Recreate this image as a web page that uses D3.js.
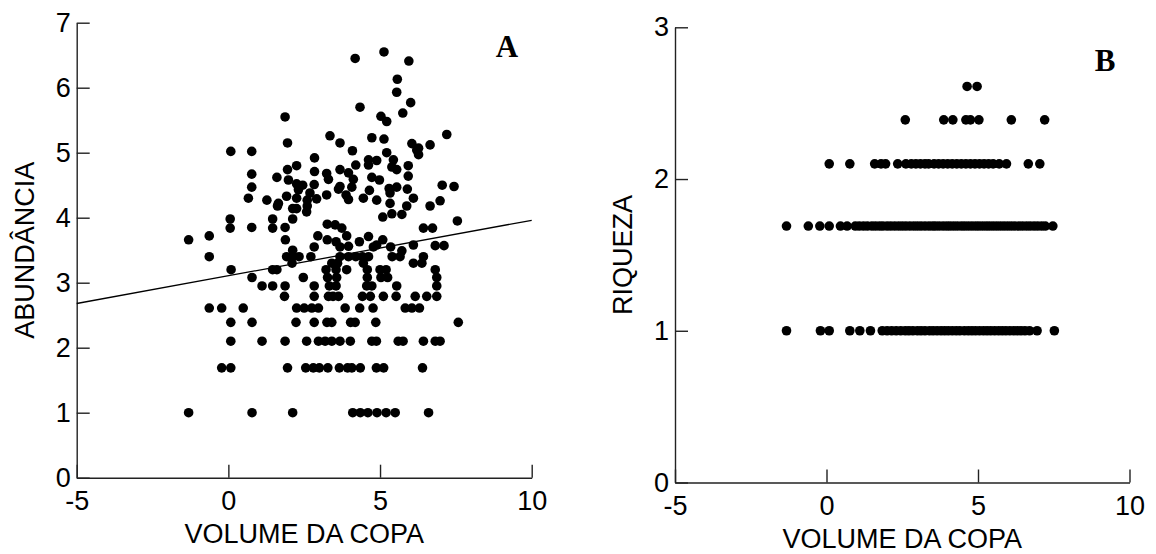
<!DOCTYPE html>
<html>
<head>
<meta charset="utf-8">
<script src="https://cdnjs.cloudflare.com/ajax/libs/d3/7.8.5/d3.min.js"></script>
<style>
  html, body { margin: 0; padding: 0; background: #fff; }
  svg { display: block; }
</style>
</head>
<body>
<svg id="chart" width="1156" height="554"></svg>
<script>
// ---------------- DATA ----------------
const xTickValues = [-5, 0, 5, 10];
const yTicksA = [0, 1, 2, 3, 4, 5, 6, 7];
const yTicksB = [0, 1, 2, 3];
const xTitle = "VOLUME DA COPA";
const yTitleA = "ABUNDÂNCIA";
const yTitleB = "RIQUEZA";

// Panel A: abundance rows (discrete levels) - volume values per level
const abundLevels = [1.00, 1.69, 2.10, 2.39, 2.61, 2.79, 2.95, 3.08, 3.20, 3.30, 3.40];
const abundLevelVolumes = [
  [-1.31, 0.78, 2.12, 4.10, 4.35, 4.60, 4.90, 5.20, 5.50, 6.60],
  [-0.22, 0.08, 1.95, 2.55, 2.80, 3.00, 3.28, 3.66, 3.93, 4.07, 4.35, 4.88, 5.12, 6.40],
  [0.08, 1.11, 1.87, 2.58, 2.97, 3.19, 3.41, 3.68, 4.02, 4.73, 4.88, 5.60, 5.76, 6.43, 6.82, 6.98],
  [0.08, 0.78, 2.23, 2.83, 3.25, 3.41, 4.03, 4.18, 4.86, 7.58],
  [-0.63, -0.22, 0.49, 2.25, 2.50, 2.75, 2.97, 3.85, 4.33, 4.77, 5.83, 6.05, 6.30],
  [1.85, 2.83, 3.30, 3.45, 3.63, 4.42, 4.68, 5.11, 5.53, 6.16, 6.54, 6.87],
  [1.11, 1.46, 1.87, 2.83, 3.33, 3.55, 4.56, 4.73, 5.55, 6.87],
  [0.78, 2.47, 3.27, 3.57, 4.58, 5.03, 5.25, 6.87],
  [0.09, 1.46, 1.60, 3.22, 3.55, 3.90, 4.58, 5.00, 5.20, 6.82],
  [2.10, 3.41, 3.60, 4.45, 6.10, 6.38],
  [-0.63, 1.92, 2.12, 2.33, 2.72, 3.68, 3.96, 4.20, 4.42, 4.62, 5.40, 5.66, 6.43]
];
// Panel A: upper scattered points
const upperVolume = [
  -1.31, -0.63, 2.12, 2.83, 1.88, 2.95, 3.26, 3.55, 3.68, 3.90, 3.96, 4.32, 4.62, 4.78, 4.89, 5.09, 5.35, 5.72, 6.10, 6.82, 7.11,
  0.06, 0.06, 0.77, 1.46, 1.46, 2.12, 1.87, 3.26, 3.52, 3.74, 6.43, 6.73, 7.55,
  5.09, 5.39, 5.72, 2.58, 2.12, 2.25, 2.60, 1.62, 5.88, 6.65,
  0.66, 1.27, 1.65, 1.92, 2.25, 2.60, 2.91, 3.24, 3.63, 3.88, 3.96, 4.45, 4.89, 5.33, 6.10, 6.98,
  2.31, 2.69, 4.65, 5.33,
  0.77, 2.25, 2.45, 2.83, 3.68, 4.07, 5.30, 5.55, 5.90, 7.05, 7.44,
  1.60, 1.98, 3.30, 4.12, 4.73, 4.98, 5.93,
  2.84, 3.24, 3.96, 0.77,
  2.25, 1.95, 3.68, 4.20, 4.62, 5.39, 5.55, 5.93,
  2.84, 4.62, 4.89, 5.44, 6.27,
  0.08, 0.77, 4.09, 5.22, 6.21, 6.27,
  1.95, 3.68, 6.05, 6.65, 3.35, 4.73, 5.13, 7.20,
  1.87, 5.03, 5.22, 5.75, 4.34, 6.01, 5.55, 5.57, 5.95, 4.18, 5.13
];
const upperAbund = [
  3.66, 3.72, 3.50, 3.55, 3.66, 3.72, 3.66, 3.63, 3.55, 3.72, 3.56, 3.63, 3.71, 3.55, 3.58, 3.66, 3.55, 3.49, 3.58, 3.57, 3.57,
  3.98, 3.84, 3.85, 3.98, 3.84, 3.98, 3.85, 3.90, 3.89, 3.84, 3.84, 3.84, 3.95,
  4.01, 4.06, 4.05, 4.09, 4.14, 4.14, 4.18, 4.18, 4.18, 4.18,
  4.30, 4.27, 4.22, 4.33, 4.30, 4.27, 4.29, 4.35, 4.44, 4.35, 4.28, 4.30, 4.27, 4.22, 4.30, 4.26,
  4.43, 4.38, 4.42, 4.38,
  4.47, 4.52, 4.50, 4.51, 4.48, 4.47, 4.45, 4.47, 4.44, 4.50, 4.48,
  4.62, 4.58, 4.59, 4.59, 4.62, 4.58, 4.64,
  4.71, 4.68, 4.69, 4.67,
  4.80, 4.74, 4.74, 4.81, 4.81, 4.78, 4.74, 4.80,
  4.92, 4.89, 4.88, 4.89, 4.97,
  5.02, 5.02, 5.03, 5.00, 5.04, 5.07,
  5.15, 5.15, 5.14, 5.12, 5.26, 5.23, 5.21, 5.28,
  5.55, 5.56, 5.48, 5.61, 5.70, 5.77, 5.93, 6.13, 6.41, 6.45, 6.55
];
// Panel A regression line end points (at x = -5 and x = 10)
const fitVolume = [-5, 10];
const fitAbund = [2.68, 3.96];

// Panel B: richness levels and volumes per level
const richLevels = [1.00, 1.69, 2.10, 2.39, 2.61];
const richLevelVolumes = [
  [-1.32, -0.20, 0.09, 0.77, 1.10, 1.45, 1.84, 2.00, 2.15, 2.30, 2.45, 2.60, 2.72, 2.85, 3.00, 3.12, 3.25, 3.40, 3.52, 3.65,
   3.78, 3.90, 4.02, 4.15, 4.28, 4.40, 4.55, 4.68, 4.80, 4.92, 5.05, 5.18, 5.30, 5.42, 5.55, 5.68, 5.80, 5.92, 6.05, 6.18,
   6.30, 6.42, 6.55, 6.70, 6.95, 7.52],
  [-1.32, -0.60, -0.22, 0.09, 0.46, 0.68, 0.95, 1.08, 1.22, 1.35, 1.50, 1.62, 1.75, 1.86, 2.00, 2.12, 2.25, 2.38, 2.50, 2.62,
   2.75, 2.88, 3.00, 3.12, 3.25, 3.38, 3.50, 3.60, 3.72, 3.85, 3.97, 4.08, 4.20, 4.32, 4.45, 4.56, 4.68, 4.80, 4.92, 5.03,
   5.15, 5.27, 5.38, 5.50, 5.62, 5.74, 5.86, 5.98, 6.10, 6.22, 6.35, 6.47, 6.60, 6.72, 6.85, 6.97, 7.10, 7.22, 7.47],
  [0.09, 0.77, 1.59, 1.80, 1.95, 2.35, 2.62, 2.80, 2.95, 3.10, 3.25, 3.37, 3.55, 3.70, 3.85, 4.00, 4.15, 4.30, 4.45, 4.60,
   4.75, 4.90, 5.05, 5.20, 5.35, 5.50, 5.70, 5.94, 6.66, 7.04],
  [2.60, 3.87, 4.17, 4.60, 4.75, 5.03, 6.10, 7.20],
  [4.64, 4.97]
];

// ---------------- DRAW ----------------
const svg = d3.select("#chart");
const FONT = "'Liberation Sans', Arial, sans-serif";
const FS = 27;
const R = 4.8;

function panel(opts) {
  const { x, y, yTicks, yTitle, letter, letterPos, points, fit } = opts;
  const g = svg.append("g");

  const xAxis = d3.axisBottom(x).tickValues(xTickValues).tickFormat(d => String(d))
    .tickSizeInner(-13).tickSizeOuter(0).tickPadding(13);
  const yAxis = d3.axisLeft(y).tickValues(yTicks).tickFormat(d => String(d))
    .tickSizeInner(-13).tickSizeOuter(0).tickPadding(6);

  const gx = g.append("g").attr("transform", `translate(0,${y(0)})`).call(xAxis);
  const gy = g.append("g").attr("transform", `translate(${x(-5)},0)`).call(yAxis);
  [gx, gy].forEach(a => {
    a.attr("font-family", FONT).attr("font-size", FS);
    a.selectAll("path, line").attr("stroke", "#222").attr("stroke-width", 1.4);
    a.selectAll("text").attr("fill", "#000");
  });

  if (fit) {
    g.append("line")
      .attr("x1", x(fit.xs[0])).attr("y1", y(fit.ys[0]))
      .attr("x2", x(fit.xs[1])).attr("y2", y(fit.ys[1]))
      .attr("stroke", "#000").attr("stroke-width", 1.3);
  }

  g.append("g").selectAll("circle").data(points).join("circle")
    .attr("cx", d => x(d[0])).attr("cy", d => y(d[1])).attr("r", R).attr("fill", "#000");

  const [x0, x1] = x.range();
  const [y0, y1] = y.range();
  g.append("text").attr("x", (x0 + x1) / 2).attr("y", y(0) + 65)
    .attr("text-anchor", "middle").attr("font-family", FONT).attr("font-size", FS)
    .text(xTitle);
  const cy = (y0 + y1) / 2;
  const tx = x0 - 43;
  g.append("text").attr("transform", `translate(${tx},${cy}) rotate(-90)`)
    .attr("text-anchor", "middle").attr("font-family", FONT).attr("font-size", FS)
    .text(yTitle);
  g.append("text").attr("x", letterPos[0]).attr("y", letterPos[1])
    .attr("text-anchor", "middle").attr("font-family", "'Liberation Serif', 'Times New Roman', serif")
    .attr("font-weight", "bold").attr("font-size", 31).text(letter);
}

// Panel A
const xA = d3.scaleLinear().domain([-5, 10]).range([76.7, 531.7]);
const yA = d3.scaleLinear().domain([0, 7]).range([477.7, 22.7]);
const pointsA = [];
abundLevels.forEach((lv, i) => abundLevelVolumes[i].forEach(v => pointsA.push([v, lv])));
upperVolume.forEach((v, i) => pointsA.push([v, upperAbund[i]]));
panel({ x: xA, y: yA, yTicks: yTicksA, yTitle: yTitleA, letter: "A", letterPos: [507, 57],
        points: pointsA, fit: { xs: fitVolume, ys: fitAbund } });

// Panel B
const xB = d3.scaleLinear().domain([-5, 10]).range([675, 1129.5]);
const yB = d3.scaleLinear().domain([0, 3]).range([482.5, 27.3]);
const pointsB = [];
richLevels.forEach((lv, i) => richLevelVolumes[i].forEach(v => pointsB.push([v, lv])));
panel({ x: xB, y: yB, yTicks: yTicksB, yTitle: yTitleB, letter: "B", letterPos: [1105, 71],
        points: pointsB, fit: null });
</script>
</body>
</html>
